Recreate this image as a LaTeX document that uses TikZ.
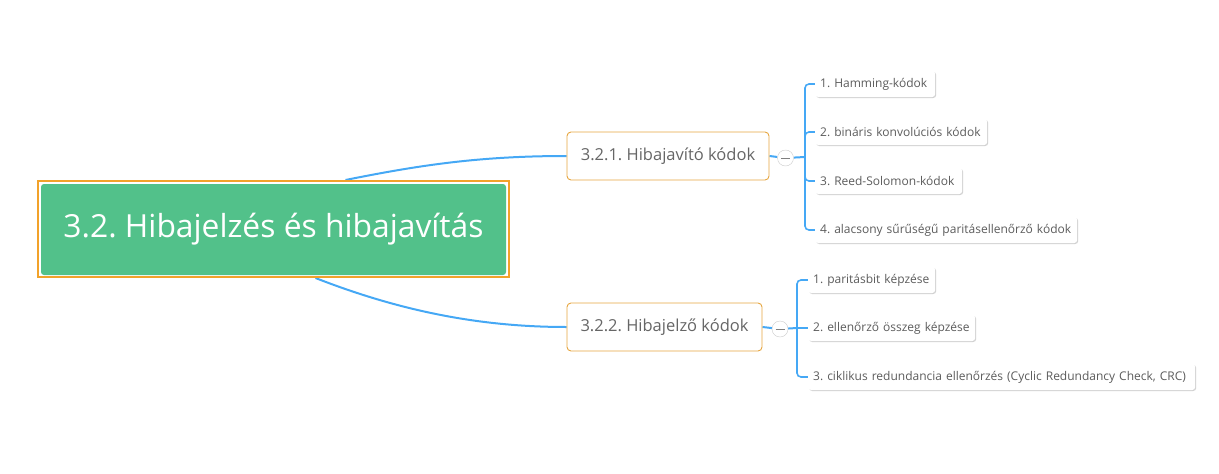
\documentclass[tikz,border=0pt]{standalone}
\usepackage{fontspec}
\setmainfont{Open Sans}
\usetikzlibrary{shadows,calc}
\definecolor{rootgreen}{HTML}{52C18A}
\definecolor{frameorange}{HTML}{F2A22A}
\definecolor{midorange}{HTML}{E6A640}
\definecolor{branchblue}{HTML}{45A8F5}
\definecolor{txtgray}{HTML}{5C5C5C}
\definecolor{midgray}{HTML}{666666}
\pgfdeclarelayer{bg}
\pgfsetlayers{bg,main}
\frenchspacing
\begin{document}
\frenchspacing
\begin{tikzpicture}[x=1pt,y=-1pt,
  rootbox/.style={fill=rootgreen, rounded corners=3pt, minimum width=465pt, minimum height=91pt, inner sep=0pt, text=white, font=\fontsize{31.8}{36}\selectfont},
  rootframebox/.style={draw=frameorange, fill=white, line width=2pt, minimum width=471pt, minimum height=96pt, inner sep=0pt},
  midbox/.style={draw=midorange, line width=0.9pt, fill=white, rounded corners=4pt, minimum height=48pt, inner sep=0pt, text=midgray, font=\fontsize{16.5}{19}\selectfont},
  leafbox/.style={fill=white, rounded corners=3pt, minimum height=26pt, inner xsep=5pt, inner ysep=0pt, anchor=west, text width=#1-10pt, align=left, text=txtgray, font=\fontsize{12}{14}\selectfont, drop shadow={shadow xshift=1pt, shadow yshift=-1pt, fill=black!22, opacity=0.8}},
  togglebox/.style={circle, draw=black!20, fill=white, minimum size=16pt, inner sep=0pt, path picture={\draw[black!50, line width=0.9pt] ([xshift=-4.5pt]path picture bounding box.center) -- ([xshift=4.5pt]path picture bounding box.center);}},
  branch/.style={draw=branchblue, line width=2pt},
  twig/.style={draw=branchblue, line width=1.6pt, rounded corners=4pt}
]
\useasboundingbox (0,0) rectangle (1219,474);

\node[rootframebox] (rootframe) at (273.5,229) {};
\node[rootbox] (root) at (273.5,229.5) {\raisebox{-4pt}{3.2. Hibajelzés és hibajavítás}};

\node[midbox, minimum width=202pt] (A) at (668,156) {3.2.1. Hibajavító kódok};
\node[midbox, minimum width=195pt] (B) at (664.5,327) {3.2.2. Hibajelző kódok};

\node[togglebox] (cA) at (785.5,158) {};
\node[togglebox] (cB) at (780,329) {};

\coordinate (jA) at (805,157);
\coordinate (jB) at (797,328);

\node[leafbox=120pt] (a1) at (815,84) {1. Hamming-kódok};
\node[leafbox=172pt] (a2) at (815,132) {2. bináris konvolúciós kódok};
\node[leafbox=147pt] (a3) at (815,181) {3. Reed-Solomon-kódok};
\node[leafbox=262pt] (a4) at (815,230) {4. alacsony sűrűségű paritásellenőrző kódok};

\node[leafbox=127pt] (b1) at (808,280) {1. paritásbit képzése};
\node[leafbox=167pt] (b2) at (808,328) {2. ellenőrző összeg képzése};
\node[leafbox=387pt] (b3) at (808,377) {3. ciklikus redundancia ellenőrzés (Cyclic Redundancy Check, CRC)};

\begin{pgfonlayer}{bg}
\draw[branch] ([xshift=72pt]rootframe.north) .. controls (420,165) and (480,156) .. (A.west);
\draw[branch] ([xshift=42pt]rootframe.south) .. controls (400,311) and (480,327) .. (B.west);
\draw[branch] (A.east) -- (cA) -- (jA);
\draw[branch] (B.east) -- (cB) -- (jB);
\draw[twig] (a1.west) -| (jA) |- (a4.west);
\draw[twig] (a2.west) -| (jA);
\draw[twig] (a3.west) -| (jA);
\draw[twig] (b1.west) -| (jB) |- (b3.west);
\draw[twig] (b2.west) -- (jB);
\end{pgfonlayer}
\end{tikzpicture}
\end{document}
